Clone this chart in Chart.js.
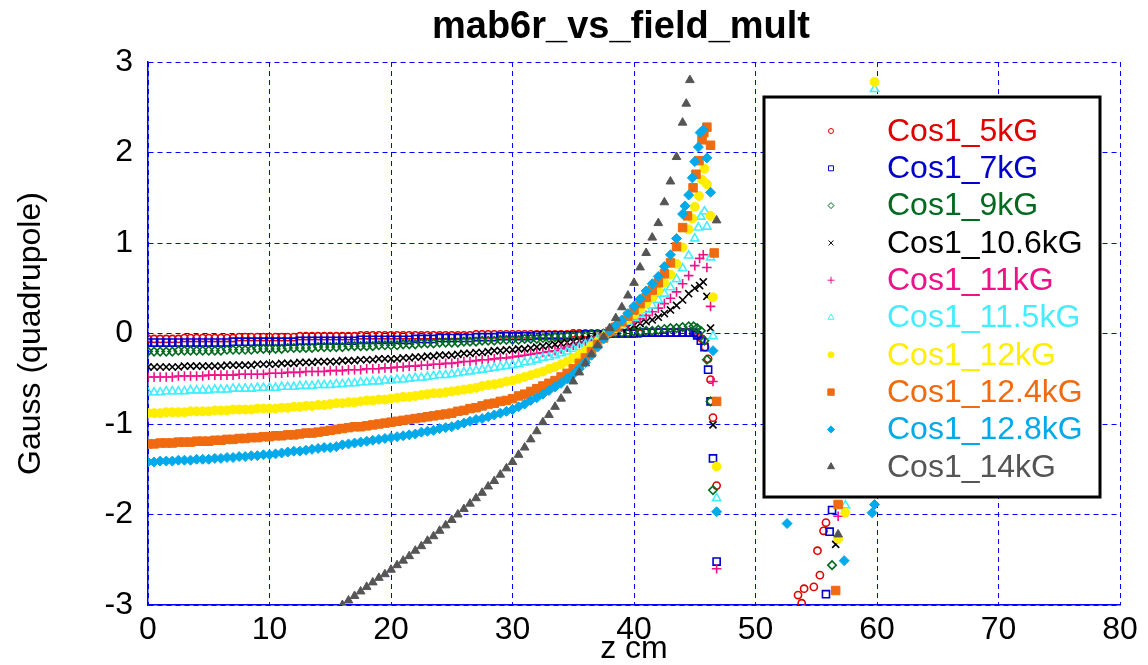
<!DOCTYPE html>
<html>
<head>
<meta charset="utf-8">
<title>mab6r_vs_field_mult</title>
<script src="https://cdn.jsdelivr.net/npm/chart.js"></script>
<style>
  body { margin: 0; background: #fff; }
  canvas { display: block; }
</style>
</head>
<body>
<canvas id="myChart" width="1148" height="665"></canvas>
<script>
const chartTitle = 'mab6r_vs_field_mult';
const xTitle = 'z cm';
const yTitle = 'Gauss (quadrupole)';

const seriesNames = ['Cos1_5kG', 'Cos1_7kG', 'Cos1_9kG', 'Cos1_10.6kG', 'Cos1_11kG',
  'Cos1_11.5kG', 'Cos1_12kG', 'Cos1_12.4kG', 'Cos1_12.8kG', 'Cos1_14kG'];
const seriesColors = ['#e00000', '#0000cc', '#006a20', '#000000', '#ee1188',
  '#44eeff', '#ffee00', '#f06a10', '#00aaea', '#555555'];

// z positions (cm) of the smooth part of every scan
const zCm = [0,0.5,1,1.5,2,2.5,3,3.5,4,4.5,5,5.5,6,6.5,7,7.5,8,8.5,9,9.5,
  10,10.5,11,11.5,12,12.5,13,13.5,14,14.5,15,15.5,16,16.5,17,17.5,18,18.5,19,19.5,
  20,20.5,21,21.5,22,22.5,23,23.5,24,24.5,25,25.5,26,26.5,27,27.5,28,28.5,29,29.5,
  30,30.5,31,31.5,32,32.5,33,33.5,34,34.5,35,35.5,36,36.5,37,37.5,38,38.5,39,39.5,
  40,40.5,41,41.5,42,42.5,43,43.5,44];

const g5kG = [
  -0.06,-0.06,-0.06,-0.06,-0.06,-0.06,-0.05,-0.05,-0.05,-0.05,
  -0.05,-0.05,-0.05,-0.05,-0.05,-0.04,-0.04,-0.04,-0.04,-0.04,
  -0.04,-0.04,-0.04,-0.04,-0.04,-0.03,-0.03,-0.03,-0.03,-0.03,
  -0.03,-0.03,-0.03,-0.03,-0.03,-0.02,-0.02,-0.02,-0.02,-0.02,
  -0.02,-0.02,-0.02,-0.02,-0.02,-0.02,-0.02,-0.02,-0.02,-0.02,
  -0.02,-0.02,-0.02,-0.02,-0.01,-0.01,-0.01,-0.01,-0.01,-0.01,
  -0.01,-0.01,-0.01,-0.01,-0.01,-0.01,-0.01,-0.01,-0.01,-0.01,
  0,0,0,0,0,0,0,0,0,0,
  0,0,0.01,0.01,0.01,0.01,0.01,0.01,0.01];
const g5kGTail = [[44.5,0.01],[45,0],[45.3,-0.02],[45.6,-0.06],[45.85,-0.15],[46.1,-0.28],
  [46.3,-0.51],[46.5,-0.93],[46.8,-1.68],[53.5,-2.89],[53.8,-2.98],[54,-2.82],[54.8,-2.8],
  [55.1,-2.4],[55.3,-2.67],[55.6,-2.18],[55.8,-2.09]];

const g7kG = [
  -0.10,-0.10,-0.10,-0.10,-0.10,-0.10,-0.10,-0.10,-0.10,-0.10,
  -0.10,-0.10,-0.10,-0.10,-0.09,-0.09,-0.09,-0.09,-0.09,-0.09,
  -0.09,-0.09,-0.09,-0.09,-0.09,-0.08,-0.08,-0.08,-0.08,-0.08,
  -0.08,-0.08,-0.08,-0.08,-0.08,-0.07,-0.07,-0.07,-0.07,-0.07,
  -0.07,-0.07,-0.07,-0.07,-0.06,-0.06,-0.06,-0.06,-0.05,-0.05,
  -0.05,-0.05,-0.05,-0.05,-0.04,-0.04,-0.04,-0.04,-0.03,-0.03,
  -0.03,-0.03,-0.03,-0.03,-0.02,-0.02,-0.02,-0.02,-0.02,-0.02,
  -0.02,-0.02,-0.01,-0.01,-0.01,-0.01,0,0,0,0,
  0,0.01,0.01,0.01,0.01,0.01,0.01,0.01,0.01];
const g7kGTail = [[44.5,0.01],[44.9,0.01],[45.2,-0.02],[45.5,-0.08],[45.8,-0.15],[46.1,-0.4],
  [46.3,-0.75],[46.5,-1.38],[46.8,-2.52],[55.8,-2.88],[56.1,-2.19],[56.3,-1.95]];

const g9kG = [
  -0.20,-0.20,-0.20,-0.20,-0.20,-0.19,-0.19,-0.19,-0.19,-0.19,
  -0.19,-0.19,-0.19,-0.18,-0.18,-0.18,-0.18,-0.18,-0.17,-0.17,
  -0.17,-0.17,-0.17,-0.16,-0.16,-0.16,-0.16,-0.16,-0.15,-0.15,
  -0.15,-0.15,-0.15,-0.14,-0.14,-0.14,-0.14,-0.14,-0.13,-0.13,
  -0.13,-0.13,-0.12,-0.12,-0.12,-0.11,-0.11,-0.11,-0.10,-0.10,
  -0.10,-0.10,-0.09,-0.09,-0.09,-0.08,-0.08,-0.08,-0.07,-0.07,
  -0.07,-0.07,-0.06,-0.06,-0.06,-0.05,-0.05,-0.04,-0.04,-0.03,
  -0.03,-0.02,-0.02,-0.01,-0.01,0,0,0.01,0.01,0.01,
  0.02,0.02,0.03,0.03,0.04,0.05,0.06,0.06,0.07];
const g9kGTail = [[44.5,0.08],[44.9,0.08],[45.2,0.06],[45.5,0.03],[45.8,-0.08],[46,-0.29],
  [46.3,-0.75],[46.5,-1.73],[56.3,-2.56]];

const g10p6kG = [
  -0.37,-0.37,-0.37,-0.37,-0.37,-0.37,-0.36,-0.36,-0.36,-0.36,
  -0.36,-0.36,-0.36,-0.35,-0.35,-0.35,-0.35,-0.35,-0.34,-0.34,
  -0.34,-0.34,-0.33,-0.33,-0.33,-0.32,-0.32,-0.32,-0.31,-0.31,
  -0.31,-0.31,-0.30,-0.30,-0.30,-0.29,-0.29,-0.29,-0.28,-0.28,
  -0.28,-0.28,-0.27,-0.27,-0.26,-0.26,-0.25,-0.25,-0.24,-0.24,
  -0.24,-0.23,-0.22,-0.22,-0.21,-0.21,-0.20,-0.19,-0.19,-0.18,
  -0.18,-0.17,-0.17,-0.16,-0.15,-0.14,-0.13,-0.12,-0.11,-0.10,
  -0.09,-0.08,-0.06,-0.05,-0.03,-0.01,0.01,0.03,0.05,0.07,
  0.09,0.11,0.13,0.15,0.18,0.22,0.26,0.31,0.37];
const g10p6kGTail = [[44.5,0.44],[45,0.5],[45.4,0.53],[45.7,0.57],[46,0.41],[46.3,0.06],
  [46.5,-1.01],[56.6,-2.33]];

const g11kG = [
  -0.48,-0.48,-0.48,-0.48,-0.48,-0.47,-0.47,-0.47,-0.47,-0.47,
  -0.46,-0.46,-0.46,-0.46,-0.46,-0.45,-0.45,-0.45,-0.45,-0.45,
  -0.44,-0.44,-0.44,-0.43,-0.43,-0.43,-0.42,-0.42,-0.42,-0.42,
  -0.41,-0.41,-0.41,-0.40,-0.40,-0.40,-0.39,-0.39,-0.39,-0.38,
  -0.38,-0.37,-0.37,-0.36,-0.36,-0.35,-0.35,-0.34,-0.34,-0.33,
  -0.33,-0.32,-0.31,-0.31,-0.30,-0.29,-0.29,-0.28,-0.27,-0.27,
  -0.26,-0.25,-0.24,-0.23,-0.22,-0.21,-0.20,-0.19,-0.17,-0.15,
  -0.13,-0.11,-0.09,-0.07,-0.04,-0.02,0.01,0.04,0.07,0.10,
  0.13,0.16,0.20,0.24,0.28,0.33,0.39,0.46,0.55];
const g11kGTail = [[44.5,0.64],[45,0.75],[45.4,0.83],[45.7,0.87],[46,0.73],[46.3,0.3],
  [46.5,-0.53],[46.8,-2.6],[56.8,-2.02]];

const g11p5kG = [
  -0.65,-0.65,-0.65,-0.64,-0.64,-0.64,-0.64,-0.63,-0.63,-0.63,
  -0.63,-0.62,-0.62,-0.62,-0.61,-0.61,-0.61,-0.61,-0.60,-0.60,
  -0.60,-0.60,-0.59,-0.59,-0.59,-0.58,-0.58,-0.58,-0.57,-0.57,
  -0.57,-0.56,-0.56,-0.55,-0.55,-0.54,-0.54,-0.53,-0.53,-0.52,
  -0.52,-0.51,-0.51,-0.50,-0.49,-0.49,-0.48,-0.47,-0.46,-0.46,
  -0.45,-0.44,-0.43,-0.42,-0.41,-0.40,-0.39,-0.38,-0.37,-0.36,
  -0.35,-0.34,-0.32,-0.31,-0.29,-0.27,-0.26,-0.24,-0.22,-0.20,
  -0.17,-0.15,-0.12,-0.09,-0.06,-0.02,0.02,0.05,0.09,0.13,
  0.17,0.21,0.26,0.31,0.37,0.44,0.51,0.60,0.72];
const g11p5kGTail = [[44.5,0.86],[45,1.05],[45.3,1.17],[45.5,1.29],[45.8,1.35],[46,1.18],
  [46.3,0.84],[46.5,-0.03],[46.8,-1.82],[57.4,-1.9],[59.8,2.7]];

const g12kG = [
  -0.88,-0.88,-0.88,-0.87,-0.87,-0.87,-0.87,-0.86,-0.86,-0.86,
  -0.86,-0.85,-0.85,-0.85,-0.84,-0.84,-0.84,-0.84,-0.83,-0.83,
  -0.83,-0.83,-0.82,-0.82,-0.81,-0.81,-0.80,-0.80,-0.79,-0.79,
  -0.78,-0.77,-0.77,-0.76,-0.76,-0.75,-0.74,-0.74,-0.73,-0.73,
  -0.72,-0.71,-0.70,-0.70,-0.69,-0.68,-0.67,-0.66,-0.66,-0.65,
  -0.64,-0.63,-0.62,-0.61,-0.60,-0.58,-0.57,-0.56,-0.55,-0.53,
  -0.52,-0.50,-0.48,-0.46,-0.44,-0.42,-0.39,-0.37,-0.34,-0.31,
  -0.27,-0.23,-0.19,-0.14,-0.09,-0.04,0.02,0.06,0.11,0.16,
  0.21,0.27,0.33,0.40,0.47,0.56,0.65,0.77,0.95];
const g12kGTail = [[44.5,1.15],[44.8,1.27],[45,1.4],[45.35,1.52],[45.6,1.7],[45.8,1.82],
  [46,1.65],[46.3,1.3],[46.5,0.4],[46.8,-1.47],[56.8,-2.27],[57.4,-1.98],[59.8,2.78]];

const g12p4kG = [
  -1.22,-1.22,-1.21,-1.21,-1.21,-1.20,-1.20,-1.20,-1.19,-1.19,
  -1.19,-1.18,-1.18,-1.17,-1.17,-1.16,-1.16,-1.15,-1.15,-1.14,
  -1.14,-1.13,-1.13,-1.12,-1.12,-1.11,-1.10,-1.10,-1.09,-1.08,
  -1.07,-1.06,-1.05,-1.04,-1.03,-1.03,-1.02,-1.01,-1.00,-0.99,
  -0.98,-0.97,-0.96,-0.95,-0.94,-0.93,-0.92,-0.91,-0.90,-0.89,
  -0.88,-0.86,-0.85,-0.83,-0.82,-0.80,-0.78,-0.77,-0.75,-0.74,
  -0.72,-0.69,-0.67,-0.64,-0.61,-0.58,-0.55,-0.52,-0.48,-0.44,
  -0.39,-0.33,-0.27,-0.20,-0.12,-0.05,0.02,0.07,0.13,0.19,
  0.26,0.33,0.40,0.48,0.56,0.66,0.78,0.96,1.17];
const g12p4kGTail = [[44.4,1.3],[44.86,1.61],[45.1,1.76],[45.35,1.91],[45.6,2.14],[45.75,2.22],
  [46,2.28],[46.3,2.08],[46.6,0.89],[46.8,-0.75],[56.6,-2.84],[56.8,-1.89]];

const g12p8kG = [
  -1.42,-1.42,-1.41,-1.41,-1.41,-1.40,-1.40,-1.40,-1.39,-1.39,
  -1.39,-1.38,-1.38,-1.37,-1.37,-1.36,-1.36,-1.35,-1.35,-1.34,
  -1.34,-1.33,-1.32,-1.31,-1.30,-1.30,-1.29,-1.28,-1.27,-1.26,
  -1.26,-1.25,-1.23,-1.22,-1.21,-1.20,-1.19,-1.18,-1.17,-1.16,
  -1.15,-1.14,-1.13,-1.12,-1.11,-1.09,-1.08,-1.07,-1.05,-1.04,
  -1.03,-1.01,-0.99,-0.97,-0.95,-0.94,-0.92,-0.90,-0.88,-0.86,
  -0.84,-0.81,-0.78,-0.74,-0.71,-0.67,-0.63,-0.59,-0.55,-0.50,
  -0.45,-0.39,-0.32,-0.24,-0.15,-0.06,0.03,0.09,0.15,0.22,
  0.30,0.38,0.47,0.55,0.63,0.74,0.87,1.05,1.32];
const g12p8kGTail = [[44.2,1.41],[44.5,1.53],[44.8,1.72],[45,1.9],[45.3,2.06],[45.45,2.22],
  [45.7,2.25],[46,1.94],[46.3,1.56],[46.5,-0.19],[46.8,-1.97],[52.6,-2.1],[57.3,-2.51],
  [59.6,-1.98],[59.8,-1.89]];

// the 14 kG scan is only on scale from z = 16 cm
const g14kGStart = 16;
const g14kG = [
  -3.00,-2.95,-2.90,-2.85,-2.80,-2.75,-2.70,-2.66,
  -2.61,-2.56,-2.51,-2.46,-2.40,-2.35,-2.29,-2.24,-2.18,-2.12,
  -2.06,-2.00,-1.94,-1.88,-1.82,-1.76,-1.69,-1.63,-1.56,-1.49,
  -1.42,-1.34,-1.26,-1.17,-1.08,-0.98,-0.90,-0.81,-0.72,-0.63,
  -0.53,-0.43,-0.33,-0.23,-0.13,-0.04,0.06,0.17,0.29,0.42,
  0.56,0.73,0.89,1.06,1.22,1.45,1.68,1.95,2.33];
const g14kGTail = [[44.3,2.54],[44.6,2.8],[46.8,1.25],[56.8,-2.22]];

const markers = [
  { style: 'circle', radius: 3.6, fill: false, legend: 2.5 },
  { style: 'rect', radius: 5, fill: false, legend: 3.5 },
  { style: 'rectRot', radius: 4.2, fill: false, legend: 3 },
  { style: 'crossRot', radius: 5, fill: false, legend: 3.5 },
  { style: 'cross', radius: 4.8, fill: false, legend: 3.5 },
  { style: 'triangle', radius: 4.8, fill: false, legend: 3.5 },
  { style: 'circle', radius: 4.5, fill: true, legend: 3 },
  { style: 'rect', radius: 6, fill: true, legend: 4.5 },
  { style: 'rectRot', radius: 5, fill: true, legend: 3.5 },
  { style: 'triangle', radius: 5, fill: true, legend: 4 },
];

const FONT = '"Liberation Sans", Arial, sans-serif';

const toPoints = (ys, tail, start) => {
  const first = zCm.indexOf(start);
  return ys.map((y, i) => ({ x: zCm[first + i], y: y }))
    .concat(tail.map(p => ({ x: p[0], y: p[1] })));
};

const seriesData = [
  toPoints(g5kG, g5kGTail, 0),
  toPoints(g7kG, g7kGTail, 0),
  toPoints(g9kG, g9kGTail, 0),
  toPoints(g10p6kG, g10p6kGTail, 0),
  toPoints(g11kG, g11kGTail, 0),
  toPoints(g11p5kG, g11p5kGTail, 0),
  toPoints(g12kG, g12kGTail, 0),
  toPoints(g12p4kG, g12p4kGTail, 0),
  toPoints(g12p8kG, g12p8kGTail, 0),
  toPoints(g14kG, g14kGTail, g14kGStart),
];

const datasets = seriesNames.map((name, i) => ({
  label: name,
  data: seriesData[i],
  order: -i,
  pointStyle: markers[i].style,
  pointRadius: markers[i].radius,
  pointBorderWidth: markers[i].fill ? 1 : 1.6,
  borderColor: seriesColors[i],
  backgroundColor: markers[i].fill ? seriesColors[i] : 'rgba(0,0,0,0)',
  showLine: false,
}));

// title centred over the plot, legend box drawn inside it
const framePlugin = {
  id: 'framePlugin',
  afterDraw(chart) {
    const ctx = chart.ctx;
    ctx.save();
    ctx.fillStyle = '#000';
    ctx.font = 'bold 38px ' + FONT;
    ctx.textAlign = 'center';
    ctx.textBaseline = 'middle';
    ctx.fillText(chartTitle, 621, 28);

    const bx = 764, by = 97, bw = 336, bh = 400;
    ctx.fillStyle = '#fff';
    ctx.fillRect(bx, by, bw, bh);
    ctx.lineWidth = 3;
    ctx.strokeStyle = '#000';
    ctx.strokeRect(bx, by, bw, bh);

    ctx.font = '32px ' + FONT;
    ctx.textAlign = 'left';
    seriesNames.forEach((name, i) => {
      const y = 131 + i * 37.3;
      const m = markers[i];
      ctx.strokeStyle = seriesColors[i];
      ctx.fillStyle = m.fill ? seriesColors[i] : 'rgba(0,0,0,0)';
      ctx.lineWidth = 1;
      Chart.helpers.drawPoint(ctx, { pointStyle: m.style, radius: m.legend, rotation: 0, borderWidth: 1 }, 831, y);
      ctx.fillStyle = seriesColors[i];
      ctx.fillText(name, 887, y + 1);
    });
    ctx.restore();
  }
};

new Chart(document.getElementById('myChart'), {
  type: 'scatter',
  data: { datasets: datasets },
  options: {
    responsive: false,
    animation: false,
    layout: { padding: { top: 62, right: 28, left: 0, bottom: 0 } },
    plugins: {
      legend: { display: false },
      title: { display: false },
      tooltip: { enabled: false },
    },
    scales: {
      x: {
        type: 'linear',
        min: 0,
        max: 80,
        ticks: { stepSize: 10, color: '#000', padding: 6, font: { size: 32, family: FONT } },
        grid: { color: '#0000ff', lineWidth: 1, drawTicks: false },
        border: { display: true, color: '#0000ff', width: 1.5, dash: [5, 4] },
        title: { display: true, text: xTitle, color: '#000', padding: 0,
          font: { size: 32, family: FONT, lineHeight: 1.0 } },
        afterFit(scale) { scale.height = 60; },
      },
      y: {
        type: 'linear',
        min: -3,
        max: 3,
        ticks: { stepSize: 1, color: '#000', padding: 15, font: { size: 32, family: FONT } },
        grid: { color: '#0000ff', lineWidth: 1, drawTicks: false },
        border: { display: true, color: '#0000ff', width: 1.5, dash: [5, 4] },
        title: { display: true, text: yTitle, color: '#000', padding: { top: 12, bottom: 0 },
          font: { size: 32, family: FONT, lineHeight: 1.2 } },
        afterFit(scale) { scale.width = 148; },
      },
    },
  },
  plugins: [framePlugin],
});
</script>
</body>
</html>
